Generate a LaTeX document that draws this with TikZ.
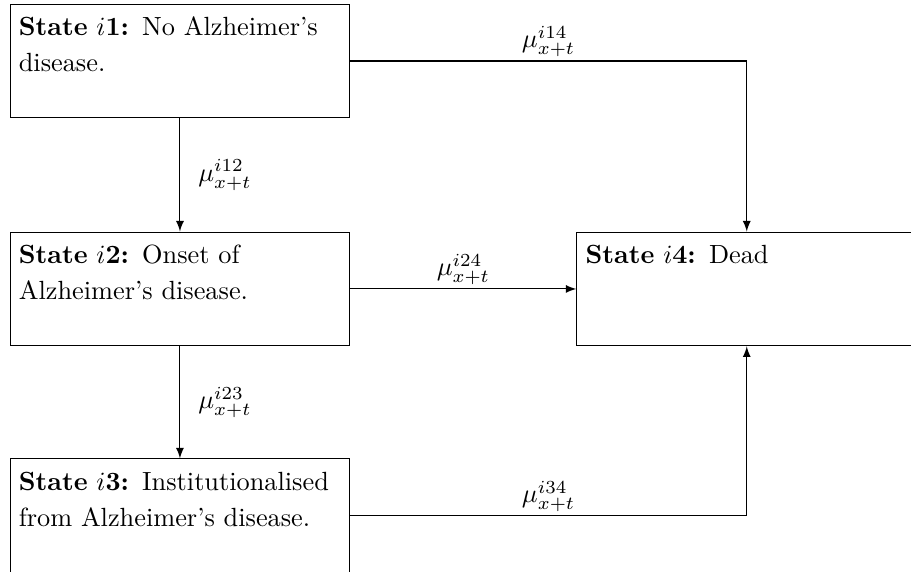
\documentclass[tikz,border=0pt]{standalone}
\usepackage{tikz}
\tikzset{>=latex}
\tikzstyle{state}=[draw,text width=122.5pt,text height=8.5pt,text depth=28.1pt,
  align=left,font=\fontsize{10}{13.9}\selectfont]
\tikzstyle{rate}=[inner sep=1.5pt]
\newcommand{\rate}[1]{$\mu^{i#1}_{x+t}$}

\begin{document}
\begin{tikzpicture}
  \clip (0,0) rectangle (12.17,-7.64);

  % STATES
  \node[state] (S1) at (2.404,-0.815) {\textbf{State $i$1:} No Alzheimer's disease.};
  \node[state] (S2) at (2.404,-3.860) {\textbf{State $i$2:} Onset of Alzheimer's disease.};
  \node[state] (S3) at (2.404,-6.891) {\textbf{State $i$3:} Institutionalised from Alzheimer's disease.};
  \node[state] (S4) at (9.976,-3.860) {\textbf{State $i$4:} Dead};

  % TRANSITIONS
  \draw[->] (S1) -- node[rate,right=5.3pt] {\rate{12}} (S2);
  \draw[->] (S2) -- node[rate,right=5.3pt] {\rate{23}} (S3);
  \draw[->] (S1) -| node[rate,pos=0.25,above] {\rate{14}} (S4);
  \draw[->] (S2) -- node[rate,above] {\rate{24}} (S4);
  \draw[->] (S3) -| node[rate,pos=0.25,above] {\rate{34}} (S4);

\end{tikzpicture}
\end{document}
